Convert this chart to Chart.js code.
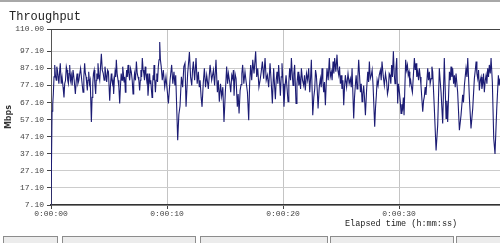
<!DOCTYPE html>
<html>
<head>
<meta charset="utf-8">
<script src="https://cdn.jsdelivr.net/npm/chart.js@4"></script>
<style>
    html, body { margin: 0; padding: 0; background: #fff; }
    #wrap { width: 500px; height: 243px; position: relative; overflow: hidden; }
</style>
</head>
<body>
<div id="wrap"><canvas id="throughputChart" width="500" height="243"></canvas></div>
<script>
// Elapsed time in seconds, and measured throughput (Mbps) at that moment
const elapsedSeconds = [
    // 0 - 9.5 s
    0, 0.09, 0.15, 0.2, 0.26, 0.32, 0.38, 0.45, 0.5, 0.55,
    0.62, 0.68, 0.74, 0.8, 0.88, 0.95, 1.04, 1.12, 1.18, 1.25,
    1.32, 1.38, 1.44, 1.5, 1.56, 1.61, 1.68, 1.75, 1.82, 1.9,
    2.0, 2.1, 2.18, 2.25, 2.32, 2.4, 2.48, 2.55, 2.65, 2.76,
    2.83, 2.9, 2.96, 3.02, 3.08, 3.13, 3.19, 3.25, 3.32, 3.38,
    3.48, 3.54, 3.6, 3.66, 3.72, 3.78, 3.85, 3.9, 3.95, 4.0,
    4.05, 4.12, 4.2, 4.27, 4.34, 4.42, 4.5, 4.58, 4.65, 4.72,
    4.8, 4.88, 4.95, 5.06, 5.13, 5.2, 5.25, 5.3, 5.35, 5.4,
    5.46, 5.52, 5.58, 5.63, 5.7, 5.78, 5.85, 5.92, 5.98, 6.05,
    6.12, 6.18, 6.24, 6.3, 6.35, 6.41, 6.46, 6.52, 6.58, 6.64,
    6.71, 6.78, 6.85, 6.92, 7.0, 7.07, 7.13, 7.2, 7.28, 7.36,
    7.43, 7.5, 7.57, 7.64, 7.7, 7.75, 7.81, 7.87, 7.94, 8.0,
    8.06, 8.12, 8.18, 8.25, 8.3, 8.36, 8.43, 8.5, 8.55, 8.6,
    8.65, 8.71, 8.76, 8.8, 8.84, 8.88, 8.94, 9.0, 9.06, 9.12,
    9.18, 9.25, 9.31, 9.37, 9.43, 9.5,
    // 9.5 - 19.1 s
    9.59, 9.68, 9.8, 9.91, 10.02, 10.12, 10.26, 10.4, 10.5, 10.6,
    10.68, 10.75, 10.92, 11.02, 11.12, 11.24, 11.35, 11.45, 11.55, 11.64,
    11.78, 11.93, 12.03, 12.13, 12.2, 12.27, 12.38, 12.5, 12.6, 12.7,
    12.78, 12.85, 12.94, 13.02, 13.12, 13.22, 13.32, 13.42, 13.56, 13.71,
    13.85, 14.0, 14.1, 14.22, 14.34, 14.42, 14.51, 14.61, 14.71, 14.81,
    14.91, 15.02, 15.14, 15.22, 15.29, 15.4, 15.49, 15.58, 15.66, 15.72,
    15.78, 15.86, 15.95, 16.06, 16.13, 16.21, 16.3, 16.38, 16.45, 16.52,
    16.62, 16.72, 16.82, 16.93, 17.04, 17.12, 17.21, 17.3, 17.39, 17.5,
    17.64, 17.73, 17.82, 17.92, 18.02, 18.12, 18.22, 18.33, 18.45, 18.55,
    18.65, 18.76, 18.88, 18.98, 19.08,
    // 19.1 - 28.9 s
    19.19, 19.26, 19.34, 19.41, 19.48, 19.55, 19.62, 19.7, 19.77, 19.84,
    19.91, 20.0, 20.08, 20.17, 20.26, 20.35, 20.43, 20.5, 20.57, 20.65,
    20.72, 20.79, 20.86, 20.93, 21.0, 21.12, 21.2, 21.29, 21.36, 21.44,
    21.51, 21.58, 21.68, 21.78, 21.85, 21.92, 22.02, 22.12, 22.21, 22.3,
    22.37, 22.44, 22.56, 22.65, 22.73, 22.8, 22.87, 22.95, 23.02, 23.12,
    23.22, 23.29, 23.36, 23.43, 23.5, 23.57, 23.65, 23.72, 23.79, 23.89,
    23.99, 24.07, 24.16, 24.23, 24.31, 24.38, 24.45, 24.55, 24.65, 24.72,
    24.8, 24.87, 24.94, 25.01, 25.08, 25.16, 25.23, 25.3, 25.37, 25.48,
    25.6, 25.7, 25.8, 25.88, 25.95, 26.09, 26.16, 26.23, 26.3, 26.38,
    26.45, 26.52, 26.6, 26.67, 26.74, 26.81, 26.88, 26.95, 27.02, 27.1,
    27.2, 27.3, 27.37, 27.44, 27.52, 27.61, 27.68, 27.76, 27.9, 27.97,
    28.04, 28.11, 28.19, 28.29, 28.39, 28.46, 28.53, 28.63, 28.73, 28.83,
    // 28.9 - 38.7 s
    28.93, 29.0, 29.08, 29.15, 29.22, 29.29, 29.36, 29.43, 29.51, 29.58,
    29.65, 29.72, 29.8, 29.88, 29.95, 30.03, 30.1, 30.17, 30.24, 30.31,
    30.37, 30.43, 30.57, 30.64, 30.72, 30.79, 30.86, 30.93, 31.0, 31.07,
    31.15, 31.32, 31.39, 31.46, 31.53, 31.61, 31.68, 31.75, 31.82, 31.89,
    32.04, 32.11, 32.18, 32.25, 32.32, 32.47, 32.54, 32.61, 32.68, 32.76,
    32.83, 32.9, 33.04, 33.19, 33.33, 33.47, 33.54, 33.62, 33.76, 33.9,
    34.05, 34.12, 34.19, 34.34, 34.41, 34.48, 34.55, 34.62, 34.7, 34.77,
    34.84, 34.91, 35.05, 35.2, 35.34, 35.48, 35.55, 35.63, 35.7, 35.77,
    35.85, 35.92, 36.06, 36.2, 36.35, 36.49, 36.57, 36.64, 36.71, 36.78,
    36.85, 36.92, 37.0, 37.07, 37.14, 37.21, 37.28, 37.35, 37.43, 37.5,
    37.57, 37.64, 37.71, 37.78, 37.86, 37.93, 38.04, 38.16, 38.27, 38.42,
    38.56, 38.63, 38.7
];
const throughputMbps = [
    // 0 - 9.5 s
    7.1, 62, 66, 72, 82, 89, 83, 80, 88, 86,
    82, 78, 85, 90, 78, 82, 76, 70, 78, 80,
    88, 86, 80, 78, 84, 89, 80, 83, 77, 86,
    80, 72, 80, 84, 78, 80, 84, 87, 80, 73,
    82, 90, 84, 82, 78, 74, 80, 85, 78, 80,
    55.7, 70, 78, 84, 86, 78, 72, 80, 84, 81,
    90, 83, 80, 88, 95.5, 86, 84, 80, 88, 84,
    79, 86, 85, 68, 78, 84, 80, 78, 80, 72,
    80, 85, 82, 92, 84, 80, 76, 66.5, 76, 84,
    80, 88, 84, 79, 82, 73, 80, 86, 82, 89,
    84, 80, 87, 85, 80, 72, 78, 84, 80, 91,
    84, 82, 80, 74, 80, 86, 82, 93, 86, 84,
    80, 88, 84, 80, 84, 71, 78, 84, 78, 80,
    75, 70, 78, 83, 80, 89, 80, 73, 80, 84,
    79, 88, 92, 102.4, 92, 88,
    // 9.5 - 19.1 s
    80, 86, 76, 82, 74, 66.5, 80, 89, 78, 85,
    77, 83, 45, 60, 65, 82, 76, 88, 90, 64.5,
    84, 96.5, 82, 77, 86, 91, 80, 93, 78, 85,
    76, 80, 70, 64.5, 78, 87, 76, 83, 75, 89,
    80, 86, 77, 92, 73, 80, 67.5, 78, 70.5, 76,
    55.7, 72, 88, 78, 84, 79, 73, 83, 81, 86,
    71, 84, 81, 64.5, 72, 60.6, 74, 77.5, 84, 89,
    78, 85, 79, 73, 56.7, 78, 89, 80, 92, 84,
    96.9, 82, 87, 76, 80, 85, 91, 81, 93, 80,
    83, 76, 90, 79, 66.5,
    // 19.1 - 28.9 s
    87, 78, 69, 80, 85, 78, 89, 80, 71, 82,
    90, 78, 64.5, 76, 83, 75, 67.5, 79, 87, 80,
    93, 84, 77, 84, 89, 66.5, 78, 85, 77, 81,
    75, 87, 80, 77, 83, 74, 84, 80, 87, 73,
    81, 92, 59.6, 70, 75, 86, 83, 74, 63.6, 76,
    81, 76, 87, 80, 73, 79, 65.5, 78, 87, 80,
    93, 82, 85, 80, 91, 84, 93, 85, 95, 86,
    83, 88, 78, 83, 75, 80, 65.5, 76, 83, 76,
    84, 78, 81, 76, 87, 57.7, 70, 77, 83, 75,
    82, 92, 82, 73, 78, 67.5, 72, 77, 70, 59.6,
    74, 85, 79, 91, 81, 83, 86, 77, 52.8, 64,
    71, 80, 77, 83, 86, 80, 91, 83, 77, 84,
    // 28.9 - 38.7 s
    79, 72, 75, 84, 83, 78, 89, 82, 97, 84,
    78, 86, 93, 66.5, 78, 73, 68, 60.6, 66, 63.6,
    70, 59.6, 92, 86, 89, 83, 85, 78, 80, 76,
    73, 93, 86, 90, 82, 85, 80, 87, 82, 77,
    61.6, 68, 70.5, 76, 71.5, 87, 80, 85, 78, 81,
    88, 85, 63.6, 39, 53.8, 87, 80, 73, 54.7, 93,
    57.7, 68, 55.7, 85, 80, 88, 82, 87, 78, 83,
    76, 84, 73, 50.8, 59.6, 71.5, 67, 77, 82, 87,
    82, 93, 70, 51.8, 63.6, 81, 86, 91, 84, 81,
    86, 74, 80, 82, 75, 78, 84, 73, 80, 83,
    78, 87, 82, 89, 84, 93, 79, 46, 37, 63.6,
    83, 77, 81
];

// Axis ticks as shown in the picture
const yTickValues = [7.1, 17.1, 27.1, 37.1, 47.1, 57.1, 67.1, 77.1, 87.1, 97.1, 110];
const xTickSeconds = [0, 10, 20, 30];

const chartTitle = 'Throughput';
const xAxisCaption = 'Elapsed time (h:mm:ss)';
const yAxisCaption = 'Mbps';

function formatElapsed(sec) {
    const h = Math.floor(sec / 3600);
    const m = Math.floor((sec % 3600) / 60);
    const s = Math.round(sec % 60);
    return `${h}:${String(m).padStart(2, '0')}:${String(s).padStart(2, '0')}`;
}

// Frame, title, caption and the window strip at the bottom
const framePlugin = {
    id: 'frame',
    afterDraw(chart) {
        const ctx = chart.ctx;
        const area = chart.chartArea;
        ctx.save();

        // top border of the plot
        ctx.strokeStyle = '#444';
        ctx.lineWidth = 1;
        ctx.beginPath();
        ctx.moveTo(area.left, area.top + 0.5);
        ctx.lineTo(area.right, area.top + 0.5);
        ctx.stroke();

        // window edge at the top
        ctx.fillStyle = '#a8a8a8';
        ctx.fillRect(0, 0, 500, 2);

        // title
        ctx.fillStyle = '#222';
        ctx.font = '12px "Liberation Mono"';
        ctx.textBaseline = 'alphabetic';
        ctx.fillText(chartTitle, 9, 20);

        // x axis caption
        ctx.font = '8.5px "Liberation Mono"';
        ctx.fillStyle = '#222';
        ctx.fillText(xAxisCaption, 345, 226);

        // tab boxes along the bottom
        ctx.fillStyle = '#ececec';
        ctx.strokeStyle = '#8c8c8c';
        [[3, 54], [62, 133], [200, 127], [330, 123], [456, 50]].forEach(([x, w]) => {
            ctx.fillRect(x, 236, w, 8);
            ctx.strokeRect(x + 0.5, 236.5, w, 8);
        });

        ctx.restore();
    }
};

const ctx = document.getElementById('throughputChart').getContext('2d');
window.throughputChart = new Chart(ctx, {
    type: 'line',
    data: {
        datasets: [{
            label: chartTitle,
            data: elapsedSeconds.map((t, i) => ({ x: t, y: throughputMbps[i] })),
            borderColor: '#1c1c74',
            borderWidth: 1.1,
            pointRadius: 0,
            tension: 0,
            fill: false
        }]
    },
    options: {
        responsive: false,
        animation: false,
        layout: { padding: { top: 29, left: 0, right: 0, bottom: 0 } },
        plugins: {
            legend: { display: false },
            tooltip: { enabled: false }
        },
        scales: {
            x: {
                type: 'linear',
                min: 0,
                max: 38.7,
                afterBuildTicks: scale => { scale.ticks = xTickSeconds.map(v => ({ value: v })); },
                afterFit: scale => { scale.height = 38; },
                grid: { color: '#c4c4c4', tickColor: '#444', tickLength: 4 },
                border: { color: '#333', width: 1.5 },
                ticks: {
                    autoSkip: false,
                    maxRotation: 0,
                    padding: 0,
                    color: '#444',
                    font: { family: 'Liberation Mono', size: 8 },
                    callback: v => formatElapsed(v)
                }
            },
            y: {
                type: 'linear',
                min: 7.1,
                max: 110,
                afterBuildTicks: scale => { scale.ticks = yTickValues.map(v => ({ value: v })); },
                afterFit: scale => { scale.width = 51; },
                grid: { color: '#cccccc', tickColor: '#444', tickLength: 4 },
                border: { color: '#555' },
                ticks: {
                    autoSkip: false,
                    padding: 3,
                    color: '#444',
                    font: { family: 'Liberation Mono', size: 8 },
                    callback: v => Number(v).toFixed(2)
                },
                title: {
                    display: true,
                    text: yAxisCaption,
                    color: '#333',
                    font: { family: 'DejaVu Sans', size: 8, weight: 'bold' },
                    padding: { top: 4, bottom: 0 }
                }
            }
        }
    },
    plugins: [framePlugin]
});
</script>
</body>
</html>
